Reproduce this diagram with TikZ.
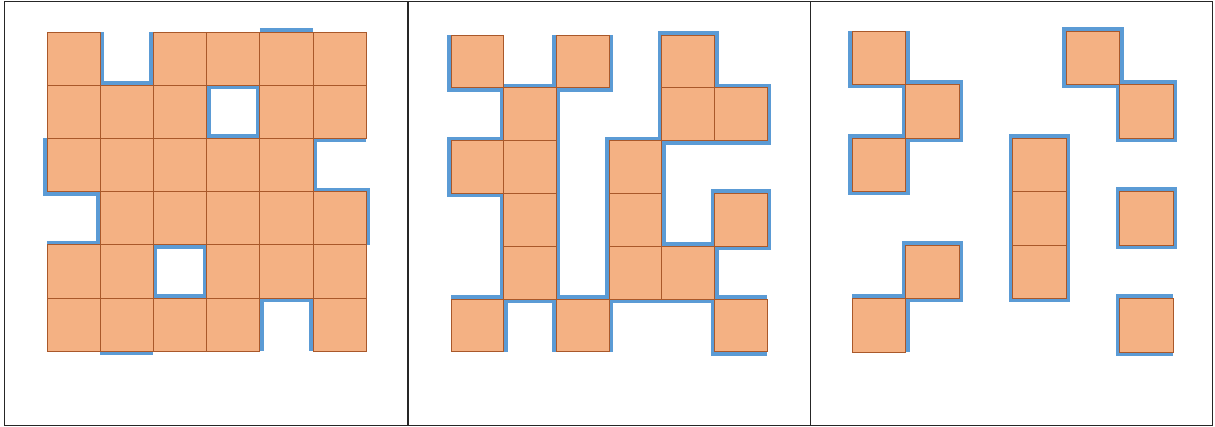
\documentclass[tikz,border=0pt]{standalone}
\definecolor{cellfill}{HTML}{F4B183}
\definecolor{cellline}{HTML}{A9582A}
\definecolor{edgeblue}{HTML}{5B9BD5}
\tikzset{
  cell/.style={fill=cellfill, draw=cellline, line width=0.9pt},
  bluedge/.style={draw=edgeblue, line width=8pt, line cap=butt, line join=miter},
  frame/.style={draw=black!85, line width=1.6pt}
}
\begin{document}
\begin{tikzpicture}[x=1pt,y=-1pt]
\useasboundingbox (0,0) rectangle (1215,427);
\draw[frame] (4.5,1.5) rectangle (1212.5,425.5);
\draw[frame] (408,1.5) -- (408,425.5);
\draw[frame] (810.5,1.5) -- (810.5,425.5);
% Panel 1
\begin{scope}[shift={(47,32)},x=53.2pt,y=-53.2pt]
  \draw[bluedge] (1,0)--(1,1)--(2,1)--(2,0);
  \draw[bluedge] (4,0)--(5,0);
  \draw[bluedge] (3,1) rectangle (4,2);
  \draw[bluedge] (6,2)--(5,2)--(5,3)--(6,3)--(6,4);
  \draw[bluedge] (0,2)--(0,3)--(1,3)--(1,4)--(0,4);
  \draw[bluedge] (2,4) rectangle (3,5);
  \draw[bluedge] (4,6)--(4,5)--(5,5)--(5,6);
  \draw[bluedge] (1,6)--(2,6);
  \foreach \c/\r in {0/0,2/0,3/0,4/0,5/0,
                     0/1,1/1,2/1,4/1,5/1,
                     0/2,1/2,2/2,3/2,4/2,
                     1/3,2/3,3/3,4/3,5/3,
                     0/4,1/4,3/4,4/4,5/4,
                     0/5,1/5,2/5,3/5,5/5}
    \draw[cell] (\c,\r) rectangle ++(1,1);
\end{scope}
% Panel 2
\begin{scope}[shift={(451,35)},x=52.7pt,y=-52.8pt]
  \draw[bluedge] (0,0)--(0,1)--(1,1)--(1,2)--(0,2)--(0,3)--(1,3)--(1,6);
  \draw[bluedge] (1,1)--(2,1);
  \draw[bluedge] (2,0)--(2,6);
  \draw[bluedge] (2,1)--(3,1)--(3,0);
  \draw[bluedge] (0,5)--(6,5);
  \draw[bluedge] (3,6)--(3,2)--(4,2)--(4,0)--(5,0)--(5,1)--(6,1)--(6,2)--(4,2)--(4,4)--(5,4)--(5,3)--(6,3)--(6,4)--(5,4)--(5,6)--(6,6);
  \foreach \c/\r in {0/0,2/0,4/0,
                     1/1,4/1,5/1,
                     0/2,1/2,3/2,
                     1/3,3/3,5/3,
                     1/4,3/4,4/4,
                     0/5,2/5,5/5}
    \draw[cell] (\c,\r) rectangle ++(1,1);
\end{scope}
% Panel 3
\begin{scope}[shift={(852,31)},x=53.5pt,y=-53.5pt]
  \draw[bluedge] (0,0)--(0,1)--(1,1)--(1,0);
  \draw[bluedge] (1,1) rectangle (2,2);
  \draw[bluedge] (0,2) rectangle (1,3);
  \draw[bluedge] (4,0) rectangle (5,1);
  \draw[bluedge] (5,1) rectangle (6,2);
  \draw[bluedge] (3,2) rectangle (4,5);
  \draw[bluedge] (5,3) rectangle (6,4);
  \draw[bluedge] (1,4) rectangle (2,5);
  \draw[bluedge] (0,5)--(1,5)--(1,6);
  \draw[bluedge] (6,5)--(5,5)--(5,6)--(6,6);
  \foreach \c/\r in {0/0,4/0,1/1,5/1,0/2,3/2,3/3,5/3,1/4,3/4,0/5,5/5}
    \draw[cell] (\c,\r) rectangle ++(1,1);
\end{scope}
\end{tikzpicture}
\end{document}
